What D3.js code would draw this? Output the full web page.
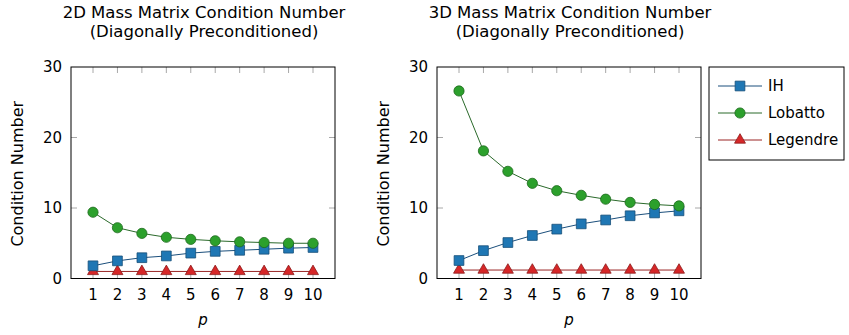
<!DOCTYPE html>
<html>
<head>
<meta charset="utf-8">
<script src="https://cdn.jsdelivr.net/npm/d3@7"></script>
<style>
  body { margin: 0; background: #fff; }
  text { font-family: "DejaVu Sans", sans-serif; fill: #000; }
</style>
</head>
<body>
<svg id="chart" width="849" height="335"></svg>
<script>
// polynomial degree p
const degrees = [1, 2, 3, 4, 5, 6, 7, 8, 9, 10];
const yTicks = [0, 10, 20, 30];

// 2D condition numbers
const ih2d       = [1.8, 2.5, 2.95, 3.2, 3.6, 3.85, 4.0, 4.15, 4.3, 4.4];
const lobatto2d  = [9.4, 7.2, 6.4, 5.85, 5.55, 5.35, 5.2, 5.1, 5.0, 5.0];
const legendre2d = [1.0, 1.0, 1.0, 1.0, 1.0, 1.0, 1.0, 1.0, 1.0, 1.0];

// 3D condition numbers
const ih3d       = [2.55, 3.95, 5.1, 6.1, 7.0, 7.75, 8.3, 8.9, 9.3, 9.6];
const lobatto3d  = [26.6, 18.1, 15.2, 13.5, 12.45, 11.8, 11.25, 10.8, 10.5, 10.3];
const legendre3d = [1.2, 1.2, 1.2, 1.2, 1.2, 1.2, 1.2, 1.2, 1.2, 1.2];

const seriesStyle = {
  IH:       { fill: "#1f77b4", stroke: "#174f79", line: "#1b4f7c", shape: d3.symbolSquare },
  Lobatto:  { fill: "#2ca02c", stroke: "#1d6a1d", line: "#2b6a2b", shape: d3.symbolCircle },
  Legendre: { fill: "#d62728", stroke: "#8c1a1a", line: "#9a2525", shape: d3.symbolTriangle }
};
const symSize = { IH: 95, Lobatto: 82, Legendre: 52 };

const svg = d3.select("#chart");

const panels = [
  { left: 71, title: ["2D Mass Matrix Condition Number", "(Diagonally Preconditioned)"],
    data: { IH: ih2d, Lobatto: lobatto2d, Legendre: legendre2d } },
  { left: 437, title: ["3D Mass Matrix Condition Number", "(Diagonally Preconditioned)"],
    data: { IH: ih3d, Lobatto: lobatto3d, Legendre: legendre3d } }
];

const pw = 264, plotTop = 67, plotBottom = 278.5;

function marker(g, name, x, y) {
  const st = seriesStyle[name];
  g.append("path")
    .attr("d", d3.symbol().type(st.shape).size(symSize[name])())
    .attr("transform", `translate(${x},${y})`)
    .attr("fill", st.fill)
    .attr("stroke", st.stroke)
    .attr("stroke-width", 0.8);
}

panels.forEach(p => {
  const x = d3.scaleLinear().domain([0.1, 10.9]).range([p.left, p.left + pw]);
  const y = d3.scaleLinear().domain([0, 30]).range([plotBottom, plotTop]);
  const g = svg.append("g");
  const cx = p.left + pw / 2;

  // title
  g.append("text").attr("x", cx + 1).attr("y", 18).attr("text-anchor", "middle")
    .attr("font-size", 16.5).attr("fill", "#111").text(p.title[0]);
  g.append("text").attr("x", cx + 1).attr("y", 37).attr("text-anchor", "middle")
    .attr("font-size", 16.5).attr("fill", "#111").text(p.title[1]);

  // inner ticks
  const tk = g.append("g").attr("stroke", "#a8a8a8").attr("stroke-width", 1);
  degrees.forEach(d => {
    tk.append("line").attr("x1", x(d)).attr("x2", x(d)).attr("y1", plotTop).attr("y2", plotTop + 6);
    tk.append("line").attr("x1", x(d)).attr("x2", x(d)).attr("y1", plotBottom).attr("y2", plotBottom - 6);
  });
  yTicks.slice(1, -1).forEach(v => {
    tk.append("line").attr("x1", p.left).attr("x2", p.left + 6).attr("y1", y(v)).attr("y2", y(v));
    tk.append("line").attr("x1", p.left + pw).attr("x2", p.left + pw - 6).attr("y1", y(v)).attr("y2", y(v));
  });

  // frame
  g.append("rect").attr("x", p.left).attr("y", plotTop).attr("width", pw).attr("height", plotBottom - plotTop)
    .attr("fill", "none").attr("stroke", "#000").attr("stroke-width", 1);

  // tick labels
  yTicks.forEach(v => {
    g.append("text").attr("x", p.left - 9).attr("y", y(v)).attr("dy", "0.36em")
      .attr("text-anchor", "end").attr("font-size", 15).text(v);
  });
  degrees.forEach(d => {
    g.append("text").attr("x", x(d)).attr("y", 300).attr("text-anchor", "middle")
      .attr("font-size", 15).text(d);
  });

  // axis labels
  g.append("text").attr("x", cx).attr("y", 325).attr("text-anchor", "middle")
    .attr("font-size", 15).attr("font-style", "italic").text("p");
  g.append("text")
    .attr("transform", `translate(${p.left - 48},${(plotTop + plotBottom) / 2 + 1}) rotate(-90)`)
    .attr("text-anchor", "middle").attr("font-size", 16).text("Condition Number");

  // series
  const line = d3.line().x((v, i) => x(degrees[i])).y(v => y(v));
  ["Legendre", "IH", "Lobatto"].forEach(name => {
    const vals = p.data[name];
    g.append("path").attr("d", line(vals)).attr("fill", "none")
      .attr("stroke", seriesStyle[name].line).attr("stroke-width", 1);
  });
  ["Legendre", "IH", "Lobatto"].forEach(name => {
    p.data[name].forEach((v, i) => marker(g, name, x(degrees[i]), y(v)));
  });
});

// legend
const lg = svg.append("g");
lg.append("rect").attr("x", 709).attr("y", 67).attr("width", 135).attr("height", 93)
  .attr("fill", "#fff").attr("stroke", "#000").attr("stroke-width", 1);
["IH", "Lobatto", "Legendre"].forEach((name, i) => {
  const yy = 86 + i * 27;
  lg.append("line").attr("x1", 718).attr("x2", 762).attr("y1", yy).attr("y2", yy)
    .attr("stroke", seriesStyle[name].line).attr("stroke-width", 1);
  marker(lg, name, 740, yy);
  lg.append("text").attr("x", 768).attr("y", yy).attr("dy", "0.36em")
    .attr("font-size", 15).text(name);
});
</script>
</body>
</html>
